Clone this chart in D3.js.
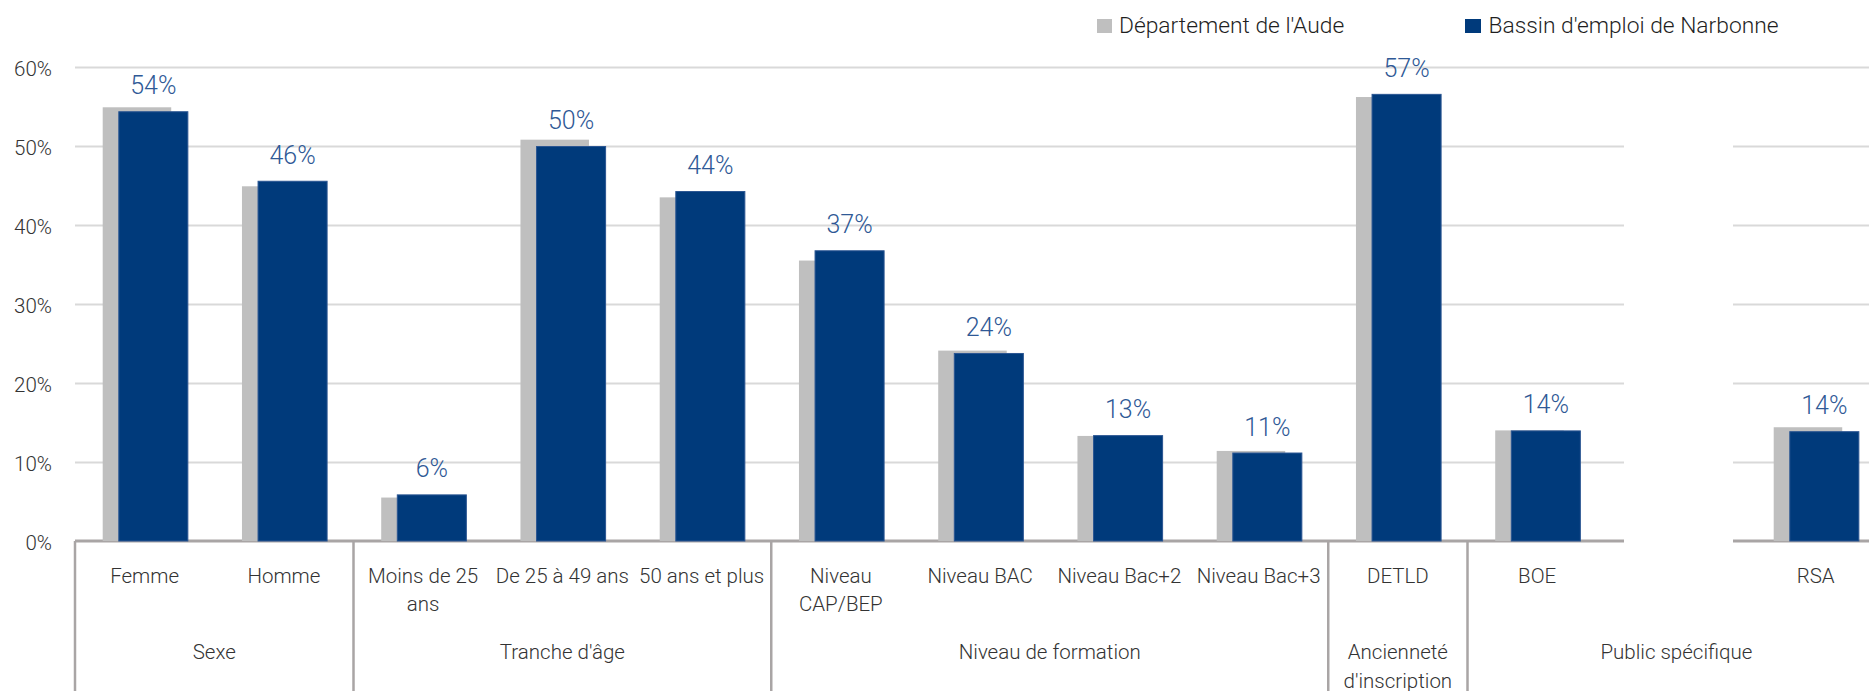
<!DOCTYPE html>
<html><head><meta charset="utf-8">
<script src="https://cdn.jsdelivr.net/npm/d3@7"></script>
<style>
body{margin:0;background:#fff;}
svg{display:block;font-family:Roboto,"Liberation Sans",Arial,sans-serif;font-weight:300;}
</style>
</head><body>
<svg id="chart" width="1869" height="691"></svg>
<script>
const categories = ["Femme","Homme","Moins de 25\nans","De 25 à 49 ans","50 ans et plus","Niveau\nCAP/BEP","Niveau BAC","Niveau Bac+2","Niveau Bac+3","DETLD","BOE","","RSA"];
const groups = ["Sexe","Tranche d'âge","Niveau de formation","Ancienneté\nd'inscription","Public spécifique"];
const groupSizes = [2,3,4,1,3];
const seriesNames = ["Département de l'Aude","Bassin d'emploi de Narbonne"];
const aude = [0.549,0.449,0.055,0.508,0.435,0.355,0.241,0.133,0.114,0.562,0.140,null,0.144];
const narbonne = [0.544,0.456,0.059,0.500,0.443,0.368,0.238,0.134,0.112,0.566,0.140,null,0.139];
const yTicks = [0,0.1,0.2,0.3,0.4,0.5,0.6];
const colors = ["#BFBFBF","#003A7B"];

const W = 1869, H = 691;
const svg = d3.select("#chart");
const left = 75, slot = 139.25;
const x = d3.scaleBand().domain(d3.range(categories.length)).range([left, left + slot*categories.length]).padding(0);
const y = d3.scaleLinear().domain([0,0.6]).range([541,67]);
const bw = x.bandwidth();
const pct = d3.format(".0%");
const textCol = "#333333";
const ff = "Roboto, 'Liberation Sans', Arial, sans-serif";

// gridlines + tick labels
const yAxis = d3.axisLeft(y).tickValues(yTicks).tickFormat(pct).tickSize(-(W-left)).tickPadding(23);
const ga = svg.append("g").attr("transform",`translate(${left},0)`).call(yAxis);
ga.select(".domain").remove();
ga.selectAll(".tick line").attr("stroke","#D9D9D9").attr("stroke-width",2)
  .filter(d=>d===0).remove();
ga.selectAll(".tick text").attr("fill",textCol).attr("font-size","20.5px")
  .attr("font-family",ff).attr("font-weight",300).attr("dy",8.5);

// axis line (0%)
svg.append("line").attr("x1",left).attr("x2",W).attr("y1",y(0)).attr("y2",y(0))
  .attr("stroke","#A9A5A5").attr("stroke-width",3);

// white mask over gridlines in the empty slot
svg.append("rect").attr("x",1624).attr("y",80).attr("width",109).attr("height",467).attr("fill","#fff");

// bars
const gBars = svg.append("g");
categories.forEach((c,i)=>{
  if (aude[i]!=null) {
    gBars.append("rect").attr("x",x(i)+bw*0.199).attr("width",bw*0.492)
      .attr("y",y(aude[i])).attr("height",y(0)-y(aude[i])).attr("fill",colors[0]);
  }
  if (narbonne[i]!=null) {
    gBars.append("rect").attr("x",x(i)+bw*0.311+0.5).attr("width",bw*0.503-1)
      .attr("y",y(narbonne[i])+0.5).attr("height",y(0)-y(narbonne[i])-0.5)
      .attr("fill",colors[1]).attr("stroke","#2A5592").attr("stroke-width",1);
    svg.append("text").attr("x",x(i)+bw*0.311+bw*0.503/2).attr("y",y(narbonne[i])-17)
      .attr("text-anchor","middle").attr("font-size","25px").attr("fill","#2F5996")
      .text(pct(narbonne[i]));
  }
});

// category dividers
let cum = [0];
groupSizes.forEach(s=>cum.push(cum[cum.length-1]+s));
cum.forEach(k=>{
  const xx = k<categories.length ? x(k) : left+slot*k;
  if (xx < W) svg.append("line").attr("x1",xx).attr("x2",xx).attr("y1",y(0)).attr("y2",H)
    .attr("stroke","#A9A5A5").attr("stroke-width",2.5);
});

// category labels
categories.forEach((c,i)=>{
  const t = svg.append("text").attr("text-anchor","middle").attr("font-size","20.5px").attr("fill",textCol);
  c.split("\n").forEach((ln,j)=>{
    t.append("tspan").attr("x",x(i)+bw/2).attr("y",582.5+j*28.5).text(ln);
  });
});
// group labels
groups.forEach((g,k)=>{
  const cx = left + slot*(cum[k]+cum[k+1])/2;
  const t = svg.append("text").attr("text-anchor","middle").attr("font-size","20.5px").attr("fill",textCol);
  g.split("\n").forEach((ln,j)=>{
    t.append("tspan").attr("x",cx).attr("y",659+j*28.5).text(ln);
  });
});

// legend
const legX = [1097,1465], legT = [1119,1488.5];
seriesNames.forEach((s,i)=>{
  svg.append("rect").attr("x",legX[i]).attr("y",19).attr("width",i?16:15).attr("height",14).attr("fill",colors[i]);
  svg.append("text").attr("x",legT[i]).attr("y",32.5).attr("font-size","22.8px").attr("fill","#1f1f1f").text(s);
});
</script>
</body></html>
